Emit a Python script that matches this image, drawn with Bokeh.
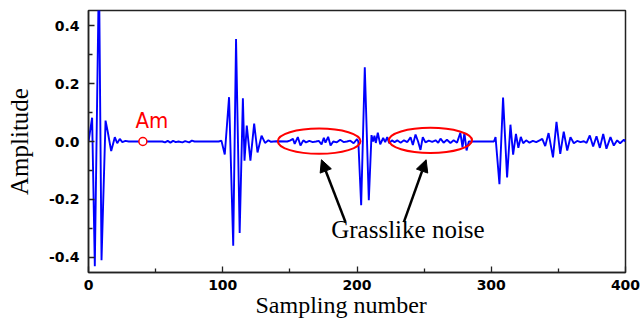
from bokeh.plotting import figure
from bokeh.models import Range1d, Label, Arrow, NormalHead, FixedTicker, PrintfTickFormatter, Title
from bokeh.embed import file_html
from bokeh.resources import INLINE

# ---- data ----
sample_x = [0, 2.7, 4.7, 7.8, 9.7, 12.7, 14.4, 16.9, 19.6, 21.4, 23.3, 25.2, 27.5, 30,
            40, 55, 57, 59, 61, 63, 65, 67, 70, 72, 75, 77, 79, 97,
            99, 101.5, 104.7, 107.8, 109.9, 112.6, 115, 116.2, 117.9, 120.6, 123.4, 125.9, 128.9, 131.5, 134, 136, 140,
            148, 150, 152.3, 153.6, 155.9, 157.9, 160, 162, 164.5, 167, 169.5, 171.5, 173.6, 175.3, 176.5, 178.5,
            180.3, 182.3, 185, 187.5, 190, 192.5, 195, 197.5, 200, 201,
            203.1, 205.8, 208.8, 210.8, 212, 213, 214, 215.5, 217.3, 219.5, 221, 222.5, 224, 226,
            228, 230, 232.5, 235, 237.5, 239.9, 241.6, 243.6, 245.5, 247.3, 249, 251, 253.5, 256, 258.5, 260.5,
            262.2, 264.5, 267, 269.6, 272, 274.5, 277, 278.6, 280, 281.6, 283.3, 286, 302,
            303.2, 306.1, 308.8, 311.8, 314.3, 316.3, 318.4, 320.2, 322, 323.8, 326, 328.5, 331, 333.5, 336, 338,
            340.2, 342.7, 346, 348.6, 351.4, 354, 356.6, 359, 361.5, 364, 366.5, 369, 371, 373.4, 375.9, 378.4,
            380.9, 383.4, 385.8, 388.8, 391.3, 393.8, 396, 398.8, 400]
amplitude = [0, 0.082, -0.43, 0.6, -0.41, 0.072, 0.032, -0.033, 0.015, -0.006, 0.009, -0.002, 0.002, 0,
             0, 0, -0.003, 0.002, -0.004, 0.002, -0.002, 0.0, -0.003, 0.001, -0.003, 0.003, 0, 0,
             0.003, -0.045, 0.153, -0.36, 0.354, -0.316, 0.149, -0.066, 0.055, -0.066, 0.062, -0.038, 0.02, -0.005, 0.004, -0.001, 0.001,
             0, 0.003, 0.009, -0.008, 0.015, -0.014, 0.004, -0.003, 0.002, -0.002, 0.0, 0.002, -0.01, 0.013, -0.004, 0.016,
             -0.014, 0.0, -0.003, 0.006, -0.002, 0.0, 0.003, -0.006, 0.008, 0.0,
             -0.22, 0.256, -0.203, 0.022, 0.0, 0.02, -0.005, 0.03, -0.01, 0.012, -0.002, 0.015, -0.006, 0.004,
             -0.002, 0.004, -0.004, 0.004, -0.002, 0.015, -0.012, 0.024, 0.0, -0.029, 0.015, -0.003, 0.003, -0.001, 0.004, -0.004,
             0.01, -0.004, 0.006, -0.005, 0.004, -0.004, 0.03, -0.02, 0.03, -0.031, 0.0, 0, 0,
             0.015, -0.147, 0.152, -0.124, 0.058, -0.045, 0.026, -0.022, 0.016, -0.006, 0.004, -0.004, 0.002, -0.002, 0.004, 0.009,
             -0.016, 0.029, -0.055, 0.068, -0.043, 0.034, -0.031, 0.015, -0.006, 0.002, -0.002, 0.001, -0.005, 0.021, -0.017, 0.018,
             -0.022, 0.026, -0.025, 0.015, -0.014, 0.004, -0.006, 0.006, 0.0]

x_ticks = [0, 100, 200, 300, 400]
x_minor = [50, 150, 250, 350]
y_ticks = [-0.4, -0.2, 0.0, 0.2, 0.4]
y_minor = [-0.3, -0.1, 0.1, 0.3]

am_x = [40.5]
am_y = [0.0]

noise_cx = [171.8, 254.7]
noise_cy = [0.001, 0.004]
noise_w = [61.6, 62.0]
noise_h = [0.087, 0.087]

arrow_start_x = [191.4, 234.9]
arrow_start_y = [-0.278, -0.278]
arrow_end_x = [173.5, 251.5]
arrow_end_y = [-0.063, -0.063]

p = figure(width=643, height=323, output_backend="svg", toolbar_location=None,
           x_range=Range1d(0, 400), y_range=Range1d(-0.452, 0.452),
           min_border_left=88, min_border_right=18, min_border_top=10, min_border_bottom=51)
p.xgrid.visible = False
p.ygrid.visible = False
p.outline_line_color = "#222222"
p.outline_line_width = 1.5
p.background_fill_color = "white"
p.border_fill_color = "white"

for ax in (p.xaxis[0], p.yaxis[0]):
    ax.axis_line_color = "#222222"
    ax.axis_line_width = 1.5
    ax.major_tick_line_color = "#222222"
    ax.minor_tick_line_color = "#222222"
    ax.major_tick_line_width = 1.3
    ax.minor_tick_line_width = 1.3
    ax.major_tick_in = 6
    ax.major_tick_out = 0
    ax.minor_tick_in = 4
    ax.minor_tick_out = 0
    ax.major_label_text_font = "DejaVu Sans"
    ax.major_label_text_font_style = "bold"
    ax.major_label_text_font_size = "14px"
    ax.major_label_text_color = "black"

p.xaxis.ticker = FixedTicker(ticks=x_ticks, minor_ticks=x_minor)
p.yaxis.ticker = FixedTicker(ticks=y_ticks, minor_ticks=y_minor)
p.yaxis.formatter = PrintfTickFormatter(format="%.1f")
p.xaxis.major_label_standoff = 7
p.yaxis.major_label_standoff = 9

p.yaxis.axis_label = "Amplitude"
p.yaxis.axis_label_text_font = "Liberation Serif"
p.yaxis.axis_label_text_font_style = "normal"
p.yaxis.axis_label_text_font_size = "25px"
p.yaxis.axis_label_text_color = "black"
p.yaxis.axis_label_standoff = 13

p.add_layout(Title(text="Sampling number", align="left", offset=167, standoff=-5,
                   text_font="Liberation Serif", text_font_size="24px",
                   text_font_style="normal", text_color="black"), "below")

p.line(sample_x, amplitude, line_color="#0000FF", line_width=1.9)

p.ellipse(x=noise_cx, y=noise_cy, width=noise_w, height=noise_h,
          fill_color=None, line_color="#FF0000", line_width=2)

p.scatter(am_x, am_y, marker="circle", size=8, line_color="#FF0000",
          fill_color="white", line_width=1.5)

p.add_layout(Label(x=35, y=0.028, text="Am", text_color="#FF0000",
                   text_font="'Liberation Sans Narrow', 'DejaVu Sans Condensed', Roboto, sans-serif",
                   text_font_size="22px"))

for xs, ys, xe, ye in zip(arrow_start_x, arrow_start_y, arrow_end_x, arrow_end_y):
    p.add_layout(Arrow(end=NormalHead(size=12, fill_color="black", line_color="black"),
                       x_start=xs, y_start=ys, x_end=xe, y_end=ye,
                       line_color="black", line_width=2.5))

p.add_layout(Label(x=180.8, y=-0.351, text="Grasslike noise", text_color="black",
                   text_font="Liberation Serif", text_font_size="25px"))

open("out.html", "w").write(file_html(p, INLINE))
